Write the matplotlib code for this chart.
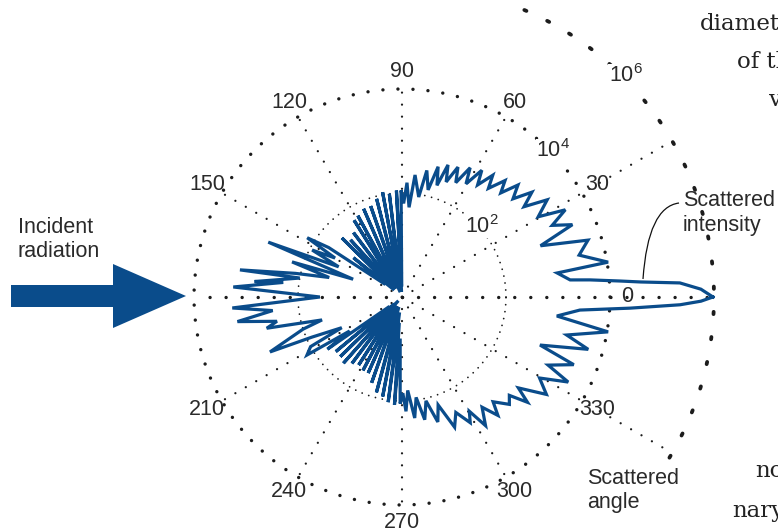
import numpy as np
import matplotlib
matplotlib.use('Agg')
import matplotlib.pyplot as plt
from matplotlib.path import Path
from matplotlib.patches import PathPatch, Polygon

plt.rcParams['font.family'] = ['Liberation Sans', 'DejaVu Sans']
plt.rcParams['mathtext.fontset'] = 'custom'
plt.rcParams['mathtext.rm'] = 'Liberation Sans'

# scattered intensity, log10 units (angle in degrees)
front_upper_deg = [0, 1.5, 2.9, 3.6, 4.2, 5.2, 5.8, 8.8, 9.6, 13.3, 17.0, 20.3, 23.0, 25.5,
                   28.1, 30.5, 33.8, 36.5, 38.9, 41.5, 44.0, 46.5, 48.5, 51.5, 53.3, 56.0,
                   57.8, 60.5, 62.2, 64.8, 66.7, 69.0, 70.8, 72.6, 74.5, 76.3, 78.9, 80.5,
                   83.9, 85.5, 87.5, 89.0]
front_upper_log = [5.98, 5.75, 5.35, 4.6, 4.2, 3.63, 3.25, 3.02, 4.02, 3.5, 3.74, 2.84, 3.56, 3.2,
                   3.56, 3.04, 3.36, 2.92, 3.21, 2.85, 3.10, 2.76, 2.99, 2.67, 2.92, 2.60,
                   2.88, 2.50, 2.81, 2.43, 2.72, 2.37, 2.69, 2.25, 2.60, 2.12, 2.48, 1.95,
                   2.36, 1.73, 2.2, 1.8]

back_upper_deg = [90.5, 91.5, 93, 95, 97, 99, 100.5, 102, 104.5, 106.5, 109, 111, 113.5, 116,
                  118.5, 120, 122, 124.5, 127, 129.5, 132, 134, 135.5, 138, 141, 143, 146,
                  148, 149.8, 152.4, 154.5, 157.7, 160, 162.3, 165, 167.5, 170.5, 169.5,
                  174, 173, 176.6]
back_upper_log = [2.05, 0.2, 2.05, 0.1, 2.0, 0.2, 2.05, 0.1, 1.95, 0.3, 1.85, 0.1, 1.85, 0.2,
                  1.78, 0.3, 1.74, 0.2, 1.55, 0.3, 1.48, 0.3, 1.62, 0.2, 1.2, 0.4, 1.7,
                  2.15, 1.49, 1.95, 1.35, 2.78, 1.0, 2.22, 1.45, 2.1, 3.16, 2.0,
                  2.85, 2.3, 3.25]

back_lower_deg = [180, 183.7, 186.0, 188.5, 191.0, 193.0, 196.0, 198.0, 202.6, 204.0, 207.0,
                  208.5, 211.4, 213.0, 215.0, 217.0, 219.5, 221.5, 224, 226, 228.5, 230.5,
                  233, 235, 237.5, 239.5, 242, 244, 246, 248, 250.5, 252.5, 255, 257, 259,
                  261, 262.5, 264, 266, 267.5, 269]
back_lower_log = [1.58, 3.27, 2.50, 3.20, 2.45, 2.67, 1.6, 2.0, 2.75, 1.9, 1.3,
                  2.0, 2.14, 1.2, 1.75, 0.3, 1.65, 0.2, 1.65, 0.1, 1.7, 0.3,
                  1.6, 0.2, 1.55, 0.3, 1.6, 0.2, 1.6, 0.3, 1.75, 0.2, 1.9, 0.4, 1.95,
                  0.3, 2.04, 0.5, 2.08, 0.8, 2.05]

front_lower_deg = [270.5, 272, 273.5, 276, 278, 280.5, 283, 286, 288.5, 292, 295, 298.5, 300.5,
                   303, 306, 309, 311, 315, 317.5, 320, 322, 326, 329.5, 332.9, 335, 338.5,
                   340.8, 344.3, 347, 350.4, 353, 355.8, 357.2, 358.4, 359.2, 360]
front_lower_log = [1.85, 2.2, 1.8, 2.34, 1.95, 2.4, 2.05, 2.5, 2.19, 2.7, 2.45, 2.75, 2.55,
                   2.95, 2.62, 2.93, 2.67, 2.92, 2.8, 3.15, 2.84, 3.35, 3.07, 3.59, 3.1, 3.55,
                   2.81, 3.72, 3.25, 4.02, 3.0, 3.43, 4.39, 5.35, 5.75, 5.98]

ring_exps = [2, 4, 6]
angle_ticks = [0, 30, 60, 90, 120, 150, 210, 240, 270, 300, 330]
long_spokes = [0, 30, 330]

BLUE = '#0a4c8b'
DOT = '#1c1c1c'
TXT = '#2a2a2a'

W, H = 778, 529
cx, cy = 402, 297          # centre of the polar plot in pixels
px_dec = 52.0              # pixels per decade
rmax = 6.3


def dots(size_px, gap_px, on=0.01):
    lw = size_px * 0.72
    return dict(color=DOT, linewidth=lw, dash_capstyle='round',
                linestyle=(0, (on, gap_px * 0.72 / lw)))


fig = plt.figure(figsize=(W / 100, H / 100), dpi=100)
R = rmax * px_dec
ax = fig.add_axes([(cx - R) / W, (H - cy - R) / H, 2 * R / W, 2 * R / H], projection='polar')
ax.set_ylim(0, rmax)
ax.grid(False)
ax.set_xticks([])
ax.set_yticks([])
ax.spines['polar'].set_visible(False)
ax.patch.set_visible(False)

th = np.linspace(0, 2 * np.pi, 500)
# inner ring fine dots, middle ring coarse
ax.plot(th, np.full_like(th, 2.0), **dots(1.8, 7))
ax.plot(th, np.full_like(th, 4.0), **dots(3.4, 15))
arc = np.deg2rad(np.linspace(-31, 68, 200))
ax.plot(arc, np.full_like(arc, 6.0), **dots(3.8, 23, on=0.6))

for a in range(0, 360, 30):
    r_end = 6.0 if a in long_spokes else 4.0
    if a in (0, 180):
        st = dots(3.4, 16)
    else:
        st = dots(2.3, 12)
    ax.plot([np.deg2rad(a)] * 2, [0, r_end], **st)

deg = np.concatenate([front_upper_deg, back_upper_deg, back_lower_deg, front_lower_deg])
logi = np.concatenate([front_upper_log, back_upper_log, back_lower_log, front_lower_log])
ax.plot(np.deg2rad(deg), logi, color=BLUE, linewidth=2.3, solid_joinstyle='miter', zorder=5)

for a in angle_ticks:
    ax.text(np.deg2rad(a), 4.33, str(a), ha='center', va='center', fontsize=15.5, color=TXT)

for e, a in zip(ring_exps, [41.6, 44.0, 44.7]):
    ax.text(np.deg2rad(a), e + 0.05, r'$\mathregular{10^{%d}}$' % e, ha='center', va='center',
            fontsize=15.5, color=TXT, zorder=6,
            bbox=dict(facecolor='white', edgecolor='none', pad=0.5))

# overlay in pixel coordinates for the annotations
ov = fig.add_axes([0, 0, 1, 1])
ov.set_xlim(0, W)
ov.set_ylim(H, 0)
ov.axis('off')
ov.patch.set_visible(False)

arrow = [(11, 285), (113, 285), (113, 264), (186, 296), (113, 328), (113, 307), (11, 307)]
ov.add_patch(Polygon(arrow, closed=True, facecolor=BLUE, edgecolor='none'))

ov.text(18, 233, 'Incident', fontsize=15.5, color=TXT, va='baseline')
ov.text(18, 257, 'radiation', fontsize=15.5, color=TXT, va='baseline')
ov.text(683, 206, 'Scattered', fontsize=15.5, color=TXT, va='baseline')
ov.text(683, 231, 'intensity', fontsize=15.5, color=TXT, va='baseline')
ov.text(587, 484, 'Scattered', fontsize=15.5, color=TXT, va='baseline')
ov.text(587, 508, 'angle', fontsize=15.5, color=TXT, va='baseline')

leader = Path([(679, 203), (648, 207), (643, 279)], [Path.MOVETO, Path.CURVE3, Path.CURVE3])
ov.add_patch(PathPatch(leader, facecolor='none', edgecolor='#111111', linewidth=0.9))

# body text of the page, cut by the right edge
serif = dict(family='DejaVu Serif', fontsize=16.5, color='#222222', va='baseline')
ov.text(700, 30, 'diameter', **serif)
ov.text(737, 68, 'of the', **serif)
ov.text(769, 106, 'visible', **serif)
ov.text(755, 477, 'not', **serif)
ov.text(732, 517, 'nary', **serif)

fig.savefig('out.png', dpi=100)
